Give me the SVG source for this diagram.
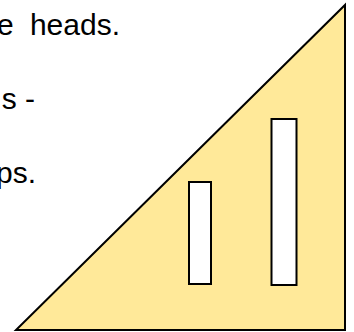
<svg xmlns="http://www.w3.org/2000/svg" width="354" height="332" viewBox="0 0 354 332">
<style>
.t{font-family:"Liberation Sans",Arial,sans-serif;font-size:30px;fill:#000}
.slot{fill:#fff;stroke:#000;stroke-width:2}
</style>
<rect width="354" height="332" fill="#fff"/>
<g id="text">
<text class="t" x="120" y="35" text-anchor="end" word-spacing="8">e heads.</text>
<text class="t" x="35" y="109" text-anchor="end">s -</text>
<text class="t" x="36" y="183" text-anchor="end">ps.</text>
</g>
<g id="triangle">
<polygon points="345,5 345,330 16,330" fill="#FFE999" stroke="#000" stroke-width="2" stroke-linejoin="miter"/>
</g>
<g id="slot1"><rect class="slot" x="189" y="182" width="22" height="102"/></g>
<g id="slot2"><rect class="slot" x="271.5" y="119" width="25" height="166"/></g>
</svg>
